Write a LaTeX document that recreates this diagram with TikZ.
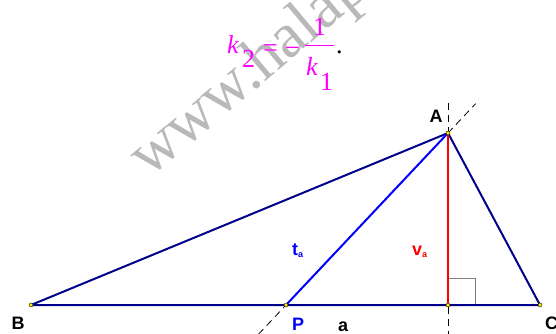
\documentclass[tikz,border=0pt]{standalone}
\usepackage{fontspec}
\setmainfont{Liberation Serif}
\newfontfamily\lsans{Liberation Sans}
\usetikzlibrary{calc}
\definecolor{navyc}{RGB}{0,0,140}
\definecolor{bluec}{RGB}{0,0,255}
\definecolor{redc}{RGB}{255,0,0}
\definecolor{magc}{RGB}{255,0,255}
\definecolor{wmark}{RGB}{185,185,185}
\tikzset{
  side/.style={navyc,line width=2pt},
  median/.style={bluec,line width=2pt},
  altit/.style={redc,line width=2pt},
  helper/.style={black,line width=0.8pt,dash pattern=on 7pt off 5pt},
  pt/.style={circle,fill=yellow,draw=black,line width=0.4pt,inner sep=0pt,minimum size=4pt},
  lab/.style={font=\lsans\bfseries\fontsize{18}{20}\selectfont,inner sep=0pt},
  form/.style={magc,inner sep=0pt,font=\fontsize{26}{28}\selectfont},
}
\begin{document}
\begin{tikzpicture}[x=1pt,y=-1pt]
\useasboundingbox (0,0) rectangle (556,333);
\clip (0,0) rectangle (556,333);
% watermark
\node[wmark,rotate=40,anchor=base west,inner sep=0pt,font=\fontsize{64}{66}\selectfont] (wm) at (149,179) {www.halap};
% formula
\node[form,anchor=base west] (fk) at (227,53) {\itshape k};
\node[form,anchor=base west] (f2) at (242,67) {2};
\node[form,anchor=base west] (feq) at (263,56) {=};
\node[form,anchor=base west] (fmin) at (285,56) {\char"2212};
\draw[magc,line width=1pt] (305,45) -- (334,45) coordinate (fbar);
\node[form,anchor=base west] (fone) at (313,35) {1};
\node[form,anchor=base west] (fk1) at (306,75) {\itshape k};
\node[form,anchor=base west] (fsub1) at (320,90) {1};
\node[inner sep=0pt,anchor=base west,font=\fontsize{26}{28}\selectfont] (fdot) at (336,53) {.};
% points
\coordinate (A) at (448,133);
\coordinate (B) at (31,305);
\coordinate (C) at (540,305);
\coordinate (P) at (286,305);
\coordinate (H) at (448,305);
% helper dashed lines
\draw[helper] ($(A)+(0,-30)$) -- ($(H)+(0,30)$);
\draw[helper] ($(P)!-0.17!(A)$) -- ($(A)!-0.17!(P)$);
% right angle
\draw[gray,line width=1pt] ($(H)+(0,-27)$) -- ($(H)+(27,-27)$) -- ($(H)+(27,0)$);
% triangle
\draw[side,line join=round] (A) -- (B) -- (C) -- cycle;
\draw[median] (P) -- (A);
\draw[altit] (A) -- (H);
\foreach \p in {A,B,C,P,H} \node[pt] at (\p) {};
% labels
\node[lab,anchor=base] (lA) at (436,122) {A};
\node[lab,anchor=base] (lB) at (18,329) {B};
\node[lab,anchor=base west] (lC) at (545,329) {C};
\node[lab,anchor=base,bluec] (lP) at (298,330) {P};
\node[lab,anchor=base] (la) at (343,331) {a};
\node[lab,anchor=base west,bluec] (lt) at (292,255) {t\raisebox{-2pt}{\fontsize{9}{9}\selectfont a}};
\node[lab,anchor=base west,redc] (lv) at (412,255) {v\raisebox{-2pt}{\fontsize{9}{9}\selectfont a}};
\end{tikzpicture}
\end{document}
